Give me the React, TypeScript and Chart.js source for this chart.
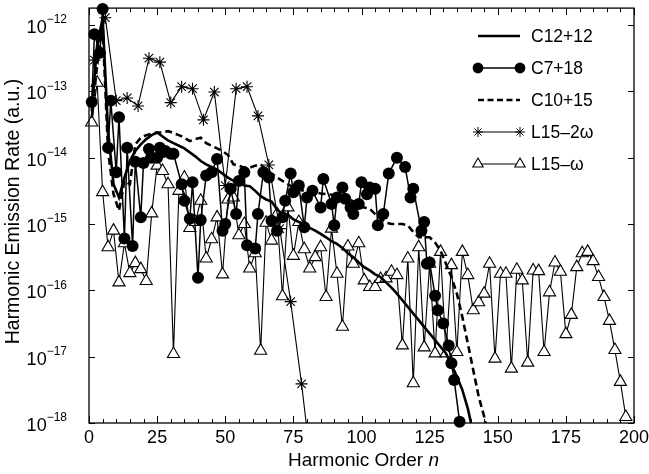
import React, { useEffect, useRef } from 'react';
import { Chart, registerables } from 'chart.js';

Chart.register(...registerables);

// ---------- text ----------
const seriesNames = ['C12+12', 'C7+18', 'C10+15', 'L15–2ω', 'L15–ω'];
const xTitle = 'Harmonic Order ';
const xTitleVar = 'n';
const yTitle = 'Harmonic Emission Rate (a.u.)';
const xTickValues = [0, 25, 50, 75, 100, 125, 150, 175, 200];
const yTickExponents = [-18, -17, -16, -15, -14, -13, -12];

// ---------- data: [harmonic order, log10(rate)] ----------
const c12: [number, number][] = [
  [1, -13.3], [3, -12.3], [5, -11.9], [7, -13.6], [9, -14.4], [11, -14.6], [13, -14.3], [15, -14.05],
  [17, -13.9], [19, -13.8], [21, -13.72], [23, -13.66], [25, -13.62], [27, -13.68], [29, -13.74],
  [31, -13.78], [33, -13.82], [35, -13.86], [37, -13.92], [39, -13.98], [41, -14.05], [43, -14.1],
  [45, -14.14], [47, -14.18], [49, -14.24], [51, -14.3], [53, -14.35], [55, -14.38], [57, -14.42],
  [59, -14.43], [61, -14.5], [63, -14.58], [65, -14.63], [67, -14.66], [69, -14.78], [71, -14.85],
  [73, -14.86], [75, -14.93], [77, -14.97], [79, -15.0], [81, -15.06], [83, -15.1], [85, -15.15],
  [87, -15.2], [89, -15.26], [91, -15.3], [93, -15.36], [95, -15.44], [97, -15.5], [99, -15.58],
  [101, -15.65], [103, -15.7], [105, -15.76], [107, -15.8], [109, -15.88], [111, -15.96],
  [113, -16.05], [115, -16.15], [117, -16.25], [119, -16.35], [121, -16.45], [123, -16.55],
  [125, -16.65], [127, -16.75], [129, -16.85], [131, -16.95], [133, -17.12], [135, -17.3],
  [137, -17.5], [139, -17.78], [141, -18.15],
];

const c7: [number, number][] = [
  [1, -13.16], [2, -12.14], [4, -12.42], [5, -11.76], [7, -13.85], [8, -13.14], [10, -14.22],
  [11, -13.39], [13, -15.22], [14, -13.85], [16, -15.33], [17, -14.06], [19, -14.9], [20, -14.08],
  [22, -13.87], [23, -14.0], [25, -14.0], [26, -13.85], [27, -13.92], [28, -13.9], [30, -13.94],
  [31, -13.94], [34, -14.4], [35, -14.65], [37, -14.92], [38, -14.37], [40, -15.81], [41, -14.94],
  [43, -14.27], [45, -14.22], [47, -14.02], [49, -15.1], [50, -15.0], [52, -14.47], [54, -14.85],
  [55, -14.35], [57, -14.22], [58, -15.32], [61, -15.37], [62, -14.85], [64, -14.22], [66, -14.3],
  [67, -14.95], [69, -15.1], [71, -14.9], [72, -14.65], [74, -14.24], [75, -14.52], [77, -14.42],
  [79, -15.05], [80, -14.6], [82, -14.5], [85, -14.75], [86, -14.32], [89, -14.7], [90, -15.02],
  [91, -14.6], [93, -14.45], [94, -14.62], [96, -14.75], [97, -14.85], [99, -14.7], [100, -14.37],
  [102, -14.55], [103, -14.45], [105, -14.47], [106, -15.02], [108, -14.85], [110, -14.24],
  [113, -14.0], [116, -14.14], [118, -14.6], [119, -14.47], [122, -15.1], [123, -14.97],
  [124, -15.6], [125, -15.58], [127, -16.08], [128, -16.3], [130, -16.5], [132, -16.83],
  [133, -17.1], [134, -17.35], [136, -17.98],
];

const c10: [number, number][] = [
  [1, -13.4], [3, -12.6], [5, -12.05], [7, -13.9], [9, -14.55], [11, -14.8], [13, -14.35], [15, -14.4],
  [17, -13.8], [19, -13.7], [21, -13.66], [23, -13.64], [25, -13.62], [27, -13.62], [29, -13.6],
  [31, -13.63], [33, -13.66], [35, -13.7], [37, -13.75], [39, -13.72], [41, -13.7], [43, -13.78],
  [45, -13.82], [47, -13.86], [49, -13.9], [51, -13.96], [53, -14.1], [55, -14.12], [57, -14.15],
  [59, -14.15], [61, -14.12], [63, -14.1], [65, -14.18], [67, -14.24], [69, -14.3], [71, -14.35],
  [73, -14.4], [75, -14.45], [77, -14.48], [79, -14.5], [81, -14.52], [83, -14.52], [85, -14.54],
  [87, -14.55], [89, -14.56], [91, -14.58], [93, -14.6], [95, -14.62], [97, -14.66], [99, -14.7],
  [101, -14.75], [103, -14.77], [105, -14.85], [107, -14.92], [109, -14.98], [111, -15.0],
  [113, -15.0], [115, -15.0], [117, -15.02], [119, -15.12], [121, -15.2], [123, -15.2],
  [125, -15.2], [127, -15.28], [129, -15.4], [131, -15.6], [133, -15.8], [135, -16.05],
  [137, -16.4], [139, -16.8], [141, -17.2], [143, -17.6], [145, -17.9], [147, -18.3],
];

const l15w2: [number, number][] = [
  [2, -12.53], [6, -11.89], [10, -13.14], [14, -13.1], [18, -13.22], [22, -12.5], [26, -12.56],
  [30, -13.17], [34, -12.93], [38, -12.96], [42, -13.43], [46, -13.01], [50, -14.42], [54, -12.96],
  [58, -12.93], [62, -13.37], [66, -14.11], [70, -15.07], [74, -16.17], [78, -17.41], [82, -18.8],
];

const l15w: [number, number][] = [
  [1, -13.47], [3, -12.87], [5, -14.52], [7, -15.35], [9, -15.1], [11, -15.88], [13, -15.29],
  [15, -15.74], [17, -15.59], [19, -15.68], [21, -15.86], [23, -14.84], [25, -14.12], [27, -14.2],
  [29, -14.4], [31, -16.96], [33, -14.5], [35, -14.3], [37, -15.06], [39, -14.97], [41, -14.65],
  [43, -15.52], [45, -15.23], [47, -14.9], [49, -15.76], [51, -14.63], [53, -14.6], [55, -15.17],
  [57, -15.0], [59, -15.67], [61, -15.44], [63, -16.91], [65, -14.98], [67, -15.25], [69, -14.85],
  [71, -16.09], [73, -14.75], [75, -15.48], [77, -14.97], [79, -15.38], [81, -15.67], [83, -15.5],
  [85, -15.35], [87, -16.1], [89, -15.07], [91, -15.75], [93, -16.55], [95, -15.34], [97, -15.6],
  [99, -15.29], [101, -15.85], [103, -15.95], [105, -15.95], [107, -15.83], [109, -15.82],
  [111, -15.72], [113, -15.77], [115, -16.83], [117, -15.52], [119, -17.4], [121, -15.35],
  [123, -16.86], [125, -15.6], [127, -16.95], [129, -15.42], [131, -16.95], [133, -15.62],
  [135, -16.93], [137, -15.42], [139, -15.77], [141, -16.3], [143, -16.18], [145, -16.05],
  [147, -15.6], [149, -17.03], [151, -15.75], [153, -15.75], [155, -17.18], [157, -15.69],
  [159, -15.85], [161, -17.09], [163, -15.7], [165, -15.71], [167, -16.93], [169, -16.03],
  [171, -15.58], [173, -15.72], [175, -16.66], [177, -16.37], [179, -15.65], [181, -15.44],
  [183, -15.42], [185, -15.56], [187, -15.8], [189, -16.1], [191, -16.46], [193, -16.9],
  [195, -17.38], [197, -17.91],
];

const xMin = 0;
const xMax = 200;
const yMinExp = -18;
const yMaxExp = -11.745;

const FONT = '"Liberation Sans", Arial, Helvetica, sans-serif';

const toPts = (arr: [number, number][]) => arr.map(([n, l]) => ({ x: n, y: Math.pow(10, l) }));

function drawMarker(ctx: CanvasRenderingContext2D, kind: string, x: number, y: number) {
  ctx.save();
  ctx.strokeStyle = '#000';
  ctx.fillStyle = '#000';
  if (kind === 'circle') {
    ctx.beginPath();
    ctx.arc(x, y, 5.4, 0, Math.PI * 2);
    ctx.fill();
  } else if (kind === 'triangle') {
    const r = 6;
    ctx.lineWidth = 1.1;
    ctx.fillStyle = '#fff';
    ctx.beginPath();
    ctx.moveTo(x, y - r);
    ctx.lineTo(x + r * Math.sin(Math.PI / 3), y + r * 0.5);
    ctx.lineTo(x - r * Math.sin(Math.PI / 3), y + r * 0.5);
    ctx.closePath();
    ctx.fill();
    ctx.stroke();
  } else if (kind === 'star') {
    const r = 5;
    const d = r * Math.cos(Math.PI / 4);
    ctx.lineWidth = 1;
    ctx.beginPath();
    ctx.moveTo(x, y - r); ctx.lineTo(x, y + r);
    ctx.moveTo(x - r, y); ctx.lineTo(x + r, y);
    ctx.moveTo(x - d, y - d); ctx.lineTo(x + d, y + d);
    ctx.moveTo(x - d, y + d); ctx.lineTo(x + d, y - d);
    ctx.stroke();
  }
  ctx.restore();
}

const decorPlugin = {
  id: 'decor',
  afterDraw(chart: any) {
    const { ctx, chartArea: a, scales } = chart;
    const xs = scales.x;
    const ys = scales.y;
    ctx.save();
    ctx.strokeStyle = '#000';
    ctx.fillStyle = '#000';

    // frame
    ctx.lineWidth = 1.3;
    ctx.strokeRect(a.left, a.top, a.right - a.left, a.bottom - a.top);

    // x ticks (major every 25, minor every 5), mirrored on top
    ctx.lineWidth = 1;
    for (let v = xMin; v <= xMax; v += 5) {
      const px = Math.round(xs.getPixelForValue(v)) + 0.5;
      const len = v % 25 === 0 ? 7 : 4;
      ctx.beginPath();
      ctx.moveTo(px, a.bottom);
      ctx.lineTo(px, a.bottom - len);
      ctx.moveTo(px, a.top);
      ctx.lineTo(px, a.top + len);
      ctx.stroke();
    }
    // y ticks at decades, mirrored on right
    for (const e of yTickExponents) {
      const py = Math.round(ys.getPixelForValue(Math.pow(10, e))) + 0.5;
      ctx.beginPath();
      ctx.moveTo(a.left, py);
      ctx.lineTo(a.left + 6, py);
      ctx.moveTo(a.right, py);
      ctx.lineTo(a.right - 6, py);
      ctx.stroke();
    }

    // x tick labels
    ctx.font = `18px ${FONT}`;
    ctx.textAlign = 'center';
    ctx.textBaseline = 'middle';
    for (const v of xTickValues) {
      ctx.fillText(String(v), xs.getPixelForValue(v), a.bottom + 15);
    }

    // y tick labels: 10 with superscript exponent
    for (const e of yTickExponents) {
      const py = ys.getPixelForValue(Math.pow(10, e));
      const sup = '−' + String(Math.abs(e));
      ctx.font = `12px ${FONT}`;
      const supW = ctx.measureText(sup).width;
      const right = a.left - 22;
      ctx.textAlign = 'right';
      ctx.fillText(sup, right, py - 5);
      ctx.font = `18px ${FONT}`;
      ctx.fillText('10', right - supW, py + 3);
    }

    // x title
    ctx.font = `19px ${FONT}`;
    const w1 = ctx.measureText(xTitle).width;
    ctx.font = `italic 19px ${FONT}`;
    const w2 = ctx.measureText(xTitleVar).width;
    const cx = (a.left + a.right) / 2 + 2;
    const ty = a.bottom + 38;
    ctx.textAlign = 'left';
    ctx.font = `19px ${FONT}`;
    ctx.fillText(xTitle, cx - (w1 + w2) / 2, ty);
    ctx.font = `italic 19px ${FONT}`;
    ctx.fillText(xTitleVar, cx - (w1 + w2) / 2 + w1, ty);

    // y title
    ctx.save();
    ctx.translate(14, (a.top + a.bottom) / 2 - 4);
    ctx.rotate(-Math.PI / 2);
    ctx.font = `19.5px ${FONT}`;
    ctx.textAlign = 'center';
    ctx.textBaseline = 'middle';
    ctx.fillText(yTitle, 0, 0);
    ctx.restore();

    // legend
    const lx0 = 478;
    const lx1 = 520;
    const tx = 531;
    const rows = [36, 68, 100, 132, 164];
    const kinds = ['solid', 'circle', 'dash', 'star', 'triangle'];
    ctx.font = `17.5px ${FONT}`;
    ctx.textAlign = 'left';
    ctx.textBaseline = 'middle';
    kinds.forEach((k, i) => {
      const y = rows[i];
      ctx.save();
      ctx.beginPath();
      if (k === 'solid') { ctx.lineWidth = 2.5; }
      else if (k === 'dash') { ctx.lineWidth = 2.5; ctx.setLineDash([6, 3.5]); }
      else if (k === 'circle') { ctx.lineWidth = 1.5; }
      else { ctx.lineWidth = 1; }
      ctx.moveTo(lx0, y);
      ctx.lineTo(lx1, y);
      ctx.stroke();
      ctx.restore();
      if (k === 'circle' || k === 'star' || k === 'triangle') {
        drawMarker(ctx, k, lx0, y);
        drawMarker(ctx, k, lx1, y);
      }
      ctx.fillText(seriesNames[i], tx, y + 1);
    });

    ctx.restore();
  },
};

export default function App() {
  const ref = useRef<HTMLCanvasElement>(null);

  useEffect(() => {
    document.body.style.margin = '0';
    const canvas = ref.current;
    if (!canvas) return;
    const chart = new Chart(canvas, {
      type: 'line',
      data: {
        datasets: [
          {
            label: seriesNames[1],
            data: toPts(c7),
            borderColor: '#000',
            backgroundColor: '#000',
            borderWidth: 1.5,
            pointStyle: 'circle',
            pointRadius: 6,
            pointBorderWidth: 0,
            pointBackgroundColor: '#000',
            order: 0,
            clip: 8,
          },
          {
            label: seriesNames[0],
            data: toPts(c12),
            borderColor: '#000',
            borderWidth: 2.6,
            pointRadius: 0,
            order: 1,
            clip: 0,
          },
          {
            label: seriesNames[2],
            data: toPts(c10),
            borderColor: '#000',
            borderWidth: 2.6,
            borderDash: [7, 4],
            pointRadius: 0,
            order: 2,
            clip: 0,
          },
          {
            label: seriesNames[3],
            data: toPts(l15w2),
            borderColor: '#000',
            borderWidth: 1.1,
            pointStyle: 'star',
            pointRadius: 6,
            pointBorderWidth: 1.1,
            pointBorderColor: '#000',
            order: 3,
            clip: 0,
          },
          {
            label: seriesNames[4],
            data: toPts(l15w),
            borderColor: '#000',
            borderWidth: 1.1,
            pointStyle: 'triangle',
            pointRadius: 7,
            pointBorderWidth: 1.1,
            pointBorderColor: '#000',
            pointBackgroundColor: '#fff',
            order: 4,
            clip: 8,
          },
        ],
      },
      options: {
        animation: false,
        responsive: false,
        devicePixelRatio: 1,
        events: [],
        layout: { padding: { top: 7, right: 15, left: 0, bottom: 0 } },
        elements: { line: { tension: 0 } },
        plugins: { legend: { display: false }, tooltip: { enabled: false } },
        scales: {
          x: {
            type: 'linear',
            min: xMin,
            max: xMax,
            ticks: { display: false },
            grid: { display: false },
            border: { display: false },
            afterFit: (s: any) => { s.height = 51; },
          },
          y: {
            type: 'logarithmic',
            min: Math.pow(10, yMinExp),
            max: Math.pow(10, yMaxExp),
            ticks: { display: false },
            grid: { display: false },
            border: { display: false },
            afterFit: (s: any) => { s.width = 89; },
          },
        },
      },
      plugins: [decorPlugin],
    } as any);
    return () => chart.destroy();
  }, []);

  return (
    <div style={{ position: 'fixed', left: 0, top: 0, width: 649, height: 474, background: '#fff' }}>
      <canvas ref={ref} width={649} height={474} style={{ display: 'block' }} />
    </div>
  );
}
